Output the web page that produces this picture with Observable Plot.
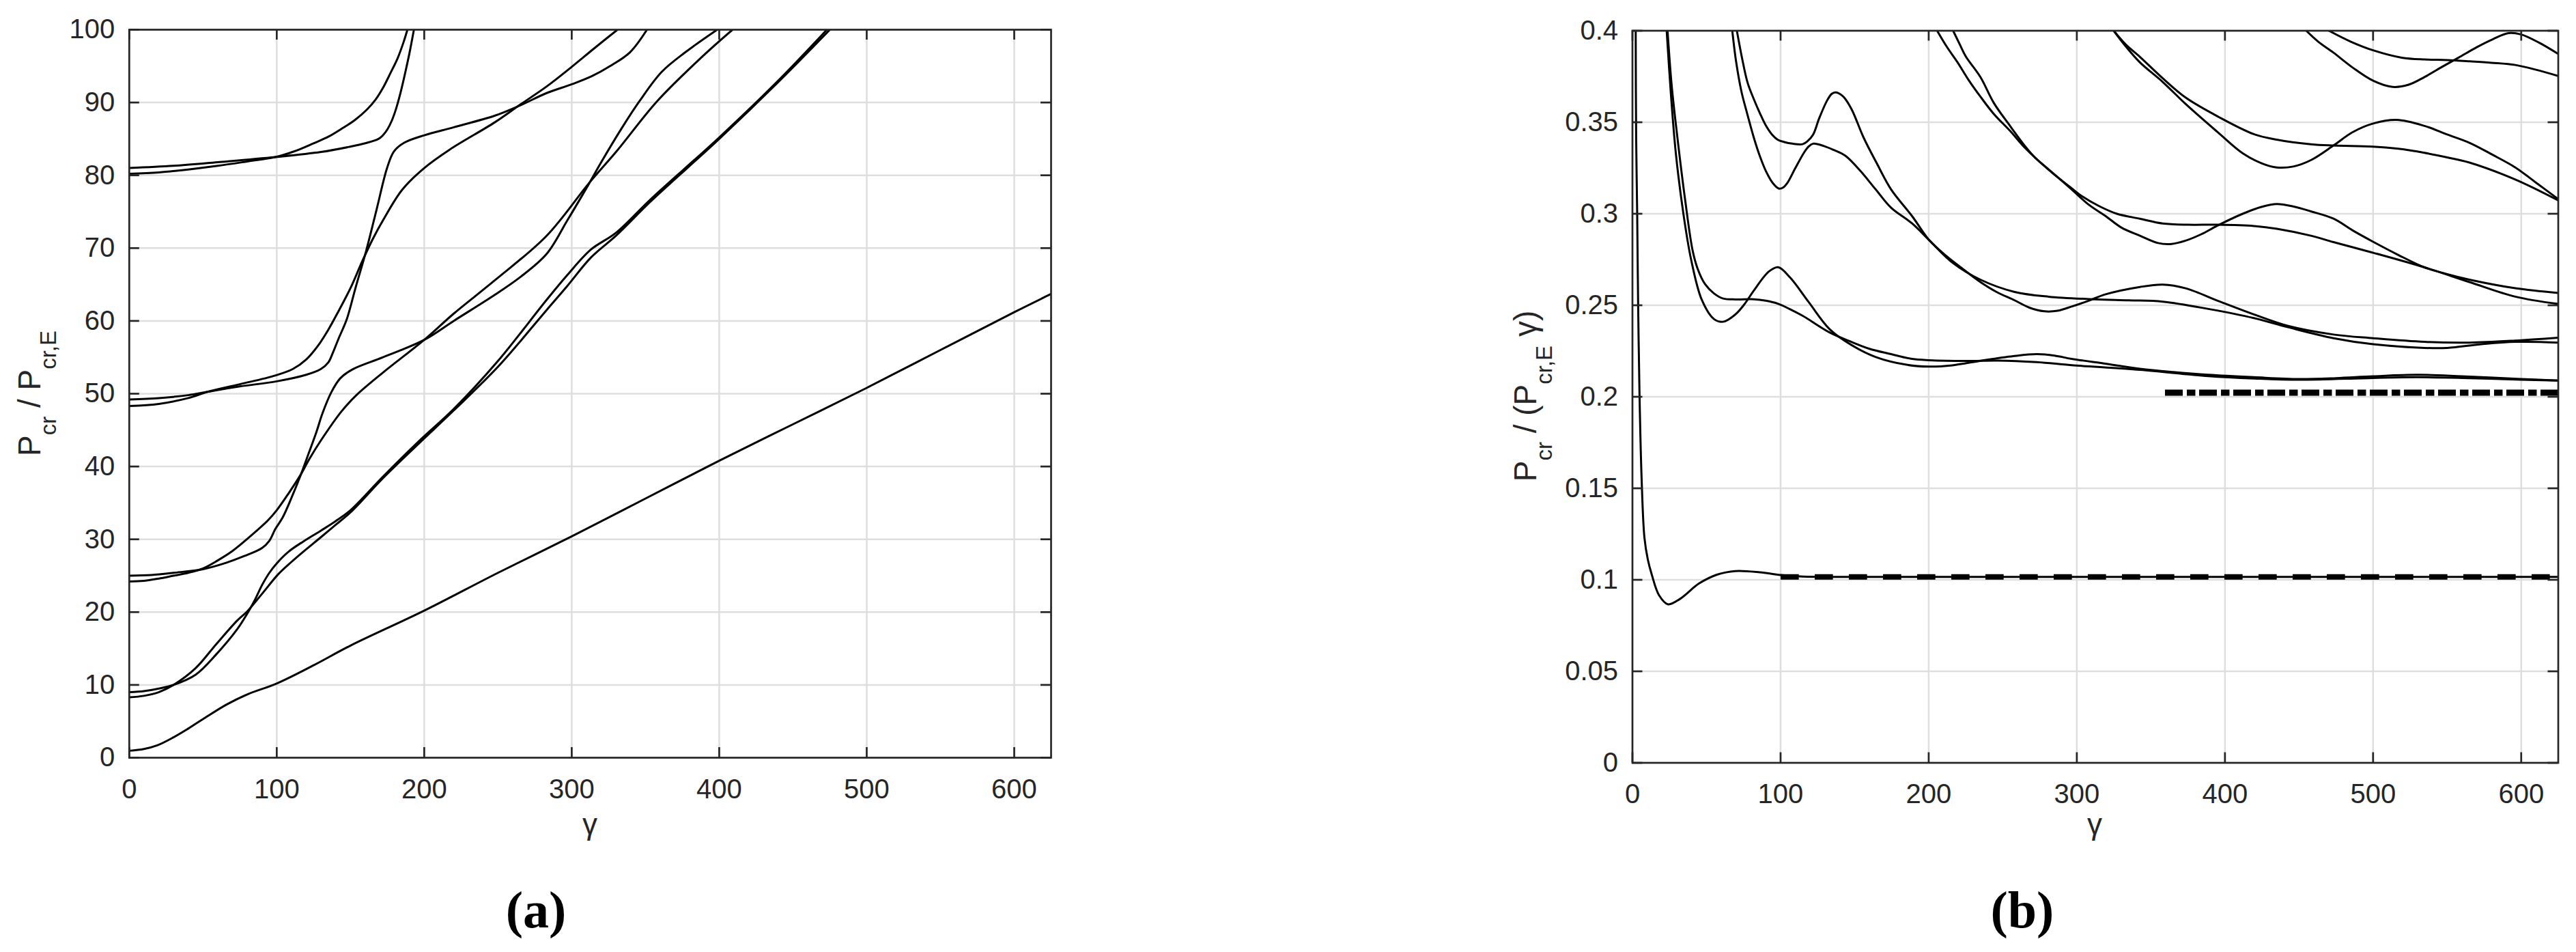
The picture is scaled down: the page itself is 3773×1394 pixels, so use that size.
<!DOCTYPE html>
<html>
<head>
<meta charset="utf-8">
<script src="https://cdn.jsdelivr.net/npm/d3@7"></script>
<script src="https://cdn.jsdelivr.net/npm/@observablehq/plot@0.6"></script>
<style>
html, body { margin: 0; padding: 0; background: #fff; }
#page { position: relative; width: 3773px; height: 1394px; overflow: hidden; background: #fff; }
#page > svg { position: absolute; top: 0; }
</style>
</head>
<body>
<div id="page"></div>
<script>
// ---------- shared ticks ----------
const xTickValues = [0, 100, 200, 300, 400, 500, 600];
const leftYTicks = [0, 10, 20, 30, 40, 50, 60, 70, 80, 90, 100];
const rightYTicks = [0, 0.05, 0.1, 0.15, 0.2, 0.25, 0.3, 0.35, 0.4];

// ---------- panel (a): P_cr / P_cr,E versus gamma ----------
const leftMode1 = [[0,0.95],[10,1.2],[19,1.7],[30,2.8],[40,4.0],[50,5.3],[66,7.3],[80,8.7],[100,10.2],[125,12.7],[150,15.4],[200,20.2],[250,25.4],[300,30.4],[350,35.6],[400,40.8],[450,45.8],[500,50.8],[550,56.0],[600,61.2],[625,63.7]];
const leftMode2 = [[0,9.0],[10,9.15],[20,9.5],[30,10.0],[45,11.4],[59,14.2],[73,17.6],[80,19.8],[85,21.6],[90,23.7],[95,25.4],[100,26.7],[108,28.3],[118,29.7],[130,31.2],[140,32.5],[150,34.0],[172,38.6],[196,43.4],[220,47.9],[250,54.5],[283,62.9],[297,66.3],[313,69.8],[330,72.1],[354,76.8],[400,85.2],[440,93.0],[473,100]];
const leftMode3 = [[0,8.3],[10,8.5],[20,9.0],[30,10.0],[45,12.3],[59,15.6],[73,18.8],[80,20.1],[90,22.5],[101,25.2],[110,26.9],[118,28.3],[130,30.3],[140,32.0],[150,33.7],[172,38.4],[196,43.1],[220,47.7],[250,53.7],[283,61.5],[297,64.8],[313,68.7],[330,71.7],[354,76.5],[400,85.0],[440,92.8],[475,100]];
const leftMode4 = [[0,24.2],[10,24.3],[20,24.6],[30,25.0],[40,25.4],[50,26.0],[60,27.1],[70,28.4],[82,30.4],[94,32.6],[100,34.0],[108,36.3],[116,38.8],[122,41.0],[130,43.6],[144,47.6],[154,49.8],[172,52.9],[200,57.4],[220,61.0],[248,65.6],[283,71.7],[312,79.0],[330,83.2],[358,90.2],[389,96.4],[409,100]];
const leftMode5 = [[0,25.0],[15,25.1],[30,25.4],[50,25.9],[66,26.8],[78,27.7],[90,28.8],[95,29.8],[99,31.4],[104,33.0],[110,35.7],[116,38.7],[122,42.0],[127,44.8],[131,47.3],[137,50.2],[143,52.1],[151,53.3],[172,55.0],[200,57.4],[220,60.0],[248,63.6],[265,66.0],[283,69.2],[297,73.8],[311,78.6],[320,81.8],[334,86.5],[346,90.2],[361,94.2],[377,96.9],[398.6,100]];
const leftMode6 = [[0,48.3],[20,48.6],[40,49.4],[54,50.3],[75,51.3],[99,52.5],[111,53.4],[120,54.7],[128,56.6],[135,58.8],[141,61.0],[150,64.5],[158,68.2],[165,71.2],[172,73.8],[185,78.0],[200,81.0],[217,83.5],[248,87.3],[265,89.7],[283,92.2],[300,94.9],[315,97.4],[331,100]];
const leftMode7 = [[0,49.2],[20,49.4],[40,49.8],[54,50.3],[75,51.0],[100,51.7],[120,52.6],[130,53.4],[135,54.3],[138,55.6],[142,57.6],[147.6,60.3],[153.5,64.6],[160.6,69.6],[167.7,75.3],[174.8,81.0],[179.5,83.3],[186.6,84.5],[200,85.5],[220,86.6],[248,88.2],[265,89.6],[283,91.3],[300,92.5],[313.5,93.6],[326,95.0],[339.5,96.9],[351,100]];
const leftMode8 = [[0,80.2],[20,80.4],[40,80.8],[60,81.3],[80,81.9],[99,82.5],[112,83.3],[125,84.4],[135,85.3],[144,86.4],[153,87.6],[161,89.0],[167,90.4],[172,92.0],[177,94.0],[182,96.1],[186,98.3],[188.6,100]];
const leftMode9 = [[0,81.0],[30,81.3],[60,81.8],[99,82.5],[130,83.2],[149,83.9],[160,84.4],[169,85.0],[172,85.5],[175,86.3],[178,87.5],[181,89.2],[184,91.4],[187,94.0],[190,96.8],[193,100]];

// ---------- panel (b): P_cr / (P_cr,E gamma) versus gamma ----------
const rightMode1 = [[2.2,0.4],[2.5,0.342],[3.2,0.3],[3.85,0.25],[4.8,0.2],[6.2,0.155],[8.1,0.123],[10.4,0.111],[13,0.103],[18,0.0915],[24,0.0866],[32,0.0895],[45,0.098],[57,0.1028],[69.5,0.1048],[86,0.1041],[100,0.1026],[115,0.1018],[140,0.1016],[200,0.1016],[300,0.1016],[400,0.1016],[500,0.1016],[625,0.1016]];
const rightMode2 = [[23.1,0.4],[26,0.365],[29.3,0.333],[34.4,0.3],[39.6,0.275],[46.8,0.253],[55,0.2425],[61.2,0.241],[69.5,0.245],[76,0.251],[81.9,0.258],[92.2,0.2685],[98.4,0.2708],[106.6,0.265],[119,0.2517],[133.4,0.2367],[147.8,0.2283],[164.3,0.2217],[185,0.2175],[200,0.2165],[216,0.2172],[236,0.2198],[257,0.2222],[273,0.2233],[285,0.2225],[296.5,0.2207],[320,0.218],[342.6,0.2153],[365,0.2135],[388.8,0.212],[419.5,0.2107],[450,0.2097],[475,0.2102],[500,0.2112],[530,0.212],[560,0.2112],[600,0.2097],[625,0.2089]];
const rightMode3 = [[23.7,0.4],[26.5,0.37],[30.3,0.342],[35.5,0.308],[40.6,0.28],[44,0.27],[48.9,0.2617],[55,0.2565],[61.2,0.2537],[70,0.2532],[81.9,0.2533],[90,0.2525],[98.4,0.2508],[106,0.248],[115,0.2442],[133.4,0.235],[147.8,0.23],[160,0.2262],[174.6,0.2233],[188.8,0.2207],[200.4,0.22],[226,0.2196],[246.8,0.2198],[273,0.2189],[296.5,0.2173],[342.6,0.2147],[388.8,0.2113],[419.5,0.21],[450,0.2093],[500,0.2103],[530,0.2107],[560,0.2103],[600,0.2093],[625,0.2089]];
const rightMode4 = [[67.4,0.4],[70,0.383],[73.6,0.3667],[77.7,0.354],[81.9,0.3417],[86,0.3315],[90.1,0.3233],[95,0.3165],[99,0.3137],[102,0.3145],[104.5,0.3167],[110,0.325],[115.9,0.3335],[119,0.3368],[122,0.3383],[129.3,0.337],[136,0.3348],[143.7,0.3317],[154,0.3233],[164,0.3135],[174.6,0.3033],[188.8,0.2947],[200.4,0.2855],[216.5,0.273],[234.9,0.264],[258,0.2573],[281,0.2547],[311.8,0.2533],[335,0.2527],[358,0.252],[388.8,0.248],[419.5,0.243],[442.6,0.238],[473.3,0.232],[500,0.2287],[534.7,0.2267],[550,0.2267],[573,0.2287],[596,0.23],[625,0.2296]];
const rightMode5 = [[70.5,0.4],[74,0.385],[77.7,0.3717],[82,0.3625],[86,0.355],[90,0.3483],[94.2,0.3433],[98,0.3405],[102.5,0.3392],[108,0.3383],[114.8,0.338],[118,0.3395],[122,0.3433],[126,0.352],[131.3,0.3617],[134.5,0.3655],[137.1,0.3663],[140,0.3655],[142.7,0.3637],[148,0.357],[156,0.3417],[165,0.3275],[174.6,0.3133],[188.8,0.2987],[200.4,0.2855],[211.8,0.277],[222,0.2705],[234.9,0.2627],[246,0.2572],[258,0.2527],[268,0.2487],[278,0.2467],[287,0.247],[296.5,0.2493],[308,0.2525],[319.5,0.256],[342.6,0.26],[358,0.2613],[373.4,0.2593],[396.6,0.252],[419.5,0.245],[442.6,0.2387],[473.3,0.234],[500,0.232],[534.7,0.23],[565,0.2296],[596,0.2307],[625,0.2323]];
const rightMode6 = [[205.7,0.4],[212,0.3915],[219.5,0.3827],[227,0.373],[234.9,0.364],[244,0.3545],[254.9,0.3453],[265,0.336],[281,0.324],[296.5,0.3139],[304,0.3093],[315,0.3042],[327,0.3],[342.6,0.2973],[358,0.2947],[375,0.294],[394.9,0.294],[419.5,0.2933],[435,0.2918],[458,0.288],[473.3,0.2845],[500,0.2787],[534.7,0.2707],[565,0.2627],[596,0.2547],[625,0.2507]];
const rightMode7 = [[216.5,0.4],[221,0.3925],[225,0.386],[234.9,0.3747],[244,0.3605],[254.9,0.348],[265,0.337],[271.8,0.3307],[281,0.3242],[296.5,0.3133],[308,0.305],[319.5,0.2987],[330,0.2925],[342.6,0.288],[354.9,0.284],[364,0.2835],[373.4,0.2853],[384,0.2888],[394.9,0.2935],[412,0.3],[425,0.3038],[435,0.3053],[446,0.304],[458,0.3013],[473.3,0.2973],[486,0.291],[500,0.2847],[517,0.2775],[534.7,0.2707],[550,0.267],[565,0.264],[596,0.2593],[625,0.2567]];
const rightMode8 = [[324.9,0.4],[333,0.3925],[342.6,0.3857],[358,0.374],[373.4,0.3635],[395.5,0.353],[419.5,0.3435],[435,0.3405],[458,0.338],[473.3,0.3373],[500,0.3367],[517,0.3355],[534.7,0.3333],[550,0.3308],[565,0.328],[596,0.3187],[625,0.3073]];
const rightMode9 = [[324.9,0.4],[333,0.3915],[342.6,0.3827],[358,0.372],[373.4,0.36],[394.9,0.3447],[412,0.333],[425,0.3275],[435,0.3253],[446,0.3258],[458,0.3293],[473.3,0.3373],[486,0.3445],[500,0.3493],[516,0.3513],[534.7,0.348],[550,0.3433],[565.3,0.3387],[580,0.3325],[596,0.3253],[610,0.317],[625,0.308]];
const rightMode10 = [[454.9,0.4],[463,0.394],[473.3,0.388],[486,0.38],[500,0.3727],[513.2,0.3693],[524,0.3705],[534.7,0.3747],[546,0.38],[557.7,0.3853],[570,0.391],[580.7,0.3953],[591.4,0.3987],[599.8,0.398],[612,0.3935],[625,0.3873]];
const rightMode11 = [[470.2,0.4],[485,0.394],[500,0.3893],[519.3,0.3853],[535,0.3843],[550,0.384],[565.3,0.3833],[580,0.3825],[596,0.3813],[610,0.3787],[625,0.3753]];

// asymptotes of panel (b)
const asymptoteDashed = [[100,0.1016],[625,0.1016]];
const asymptoteDashDot = [[359.5,0.2022],[625,0.2022]];

// ---------- drawing ----------
const page = document.getElementById("page");
const FONT = "'Liberation Sans', Arial, Helvetica, sans-serif";
const INK = "#262626";

function panel(o) {
  const H = 1394;
  const innerW = o.box.right - o.box.left;
  const innerH = o.box.bottom - o.box.top;
  const rows = o.curves.flatMap((c, i) => c.map(([x, y]) => ({x, y, id: i})));
  const tk = {stroke: INK, strokeWidth: 2.7};
  const chart = Plot.plot({
    width: o.svgWidth,
    height: H,
    marginLeft: o.box.left - o.svgLeft,
    marginRight: o.svgLeft + o.svgWidth - o.box.right,
    marginTop: o.box.top,
    marginBottom: H - o.box.bottom,
    style: {fontFamily: FONT, fontSize: "40px", color: INK, background: "transparent", overflow: "visible"},
    x: {domain: o.xDomain},
    y: {domain: o.yDomain},
    marks: [
      Plot.gridX(o.xTicks, {stroke: "#dedede", strokeOpacity: 1, strokeWidth: 2.5}),
      Plot.gridY(o.yTicks, {stroke: "#dedede", strokeOpacity: 1, strokeWidth: 2.5}),
      Plot.line(rows, {x: "x", y: "y", z: "id", stroke: "#000", strokeWidth: 3, curve: "catmull-rom", clip: true}),
      ...o.extra,
      Plot.tickX(o.xTicks, {x: d => d, insetTop: innerH - 15, ...tk}),
      Plot.tickX(o.xTicks, {x: d => d, insetBottom: innerH - 15, ...tk}),
      Plot.tickY(o.yTicks, {y: d => d, insetRight: innerW - 15, ...tk}),
      Plot.tickY(o.yTicks, {y: d => d, insetLeft: innerW - 15, ...tk}),
      Plot.frame({stroke: INK, strokeWidth: 2.7}),
      Plot.axisX(o.xTicks, {tickSize: 0, tickPadding: 31, fontSize: 40, label: null, fill: INK}),
      Plot.axisY(o.yTicks, {tickSize: 0, tickPadding: 21, fontSize: 40, label: null, fill: INK, tickFormat: o.fmt})
    ]
  });
  chart.style.left = o.svgLeft + "px";
  page.appendChild(chart);
}

panel({
  svgLeft: 0, svgWidth: 1640,
  box: {left: 188.8, right: 1539, top: 43, bottom: 1109},
  xDomain: [0, 625], yDomain: [0, 100],
  xTicks: xTickValues, yTicks: leftYTicks,
  fmt: d => String(d),
  curves: [leftMode1, leftMode2, leftMode3, leftMode4, leftMode5, leftMode6, leftMode7, leftMode8, leftMode9],
  extra: []
});

panel({
  svgLeft: 2000, svgWidth: 1773,
  box: {left: 2390.5, right: 3746.5, top: 44.5, bottom: 1116.5},
  xDomain: [0, 625], yDomain: [0, 0.4],
  xTicks: xTickValues, yTicks: rightYTicks,
  fmt: d => String(d),
  curves: [rightMode1, rightMode2, rightMode3, rightMode4, rightMode5, rightMode6, rightMode7, rightMode8, rightMode9, rightMode10, rightMode11],
  extra: [
    Plot.line(asymptoteDashed, {x: d => d[0], y: d => d[1], stroke: "#000", strokeWidth: 8, strokeDasharray: "26.7,23.3", strokeLinecap: "butt"}),
    Plot.line(asymptoteDashDot, {x: d => d[0], y: d => d[1], stroke: "#000", strokeWidth: 9, strokeDasharray: "26,6,12.5,5.5", strokeLinecap: "butt"})
  ]
});

// ---------- axis labels and panel labels ----------
const overlay = d3.create("svg")
  .attr("width", 3773).attr("height", 1394)
  .style("left", "0px")
  .attr("font-family", FONT)
  .attr("fill", "#262626");

function yLabel(x, y, parts) {
  const t = overlay.append("text")
    .attr("transform", `translate(${x},${y}) rotate(-90)`)
    .attr("text-anchor", "middle")
    .attr("font-size", 46);
  let shifted = false;
  for (const [txt, sub] of parts) {
    const s = t.append("tspan").text(txt);
    if (sub && !shifted) { s.attr("dy", 23).attr("font-size", 33); shifted = true; }
    else if (sub) { s.attr("font-size", 33); }
    else if (!sub && shifted) { s.attr("dy", -23); shifted = false; }
  }
}
yLabel(59, 576, [["P", false], ["cr", true], [" / P", false], ["cr,E", true]]);
yLabel(2250, 580, [["P", false], ["cr", true], [" / (P", false], ["cr,E", true], [" \u03b3)", false]]);

overlay.append("text").attr("x", 864).attr("y", 1222).attr("text-anchor", "middle").attr("font-size", 44).text("\u03b3");
overlay.append("text").attr("x", 3068).attr("y", 1222).attr("text-anchor", "middle").attr("font-size", 44).text("\u03b3");

overlay.append("text").attr("x", 785).attr("y", 1358).attr("text-anchor", "middle")
  .attr("font-family", "'Liberation Serif', 'Times New Roman', serif").attr("font-weight", "bold")
  .attr("font-size", 76).attr("fill", "#000").text("(a)");
overlay.append("text").attr("x", 2962).attr("y", 1358).attr("text-anchor", "middle")
  .attr("font-family", "'Liberation Serif', 'Times New Roman', serif").attr("font-weight", "bold")
  .attr("font-size", 76).attr("fill", "#000").text("(b)");

page.appendChild(overlay.node());
</script>
</body>
</html>
